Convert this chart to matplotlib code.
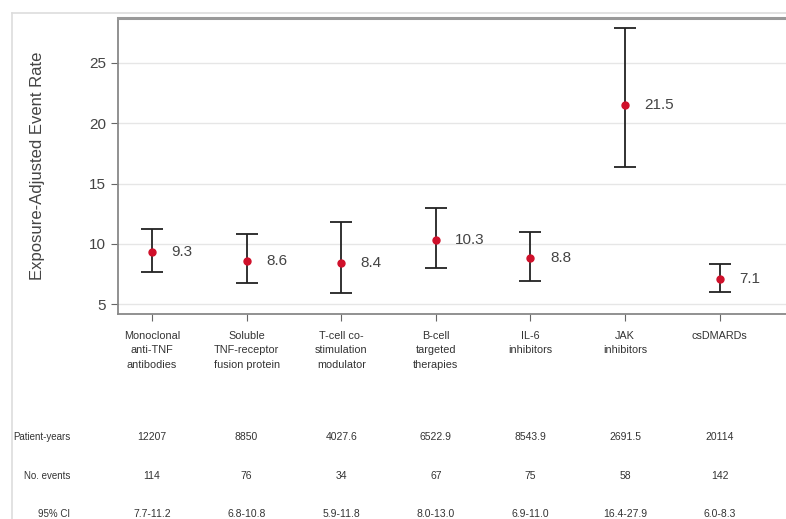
import matplotlib.pyplot as plt
from matplotlib.transforms import blended_transform_factory
import matplotlib.lines as mlines

plt.rcParams['font.family'] = ['Liberation Sans', 'DejaVu Sans']

categories = ['Monoclonal\nanti-TNF\nantibodies', 'Soluble\nTNF-receptor\nfusion protein',
              'T-cell co-\nstimulation\nmodulator', 'B-cell\ntargeted\ntherapies',
              'IL-6\ninhibitors', 'JAK\ninhibitors', 'csDMARDs']
rate = [9.3, 8.6, 8.4, 10.3, 8.8, 21.5, 7.1]
ci_low = [7.7, 6.8, 5.9, 8.0, 6.9, 16.4, 6.0]
ci_high = [11.2, 10.8, 11.8, 13.0, 11.0, 27.9, 8.3]
patient_years = ['12207', '8850', '4027.6', '6522.9', '8543.9', '2691.5', '20114']
n_events = ['114', '76', '34', '67', '75', '58', '142']
ci_text = ['7.7-11.2', '6.8-10.8', '5.9-11.8', '8.0-13.0', '6.9-11.0', '16.4-27.9', '6.0-8.3']

fig = plt.figure(figsize=(7.86, 5.19), dpi=100)
ax = fig.add_axes([0.150, 0.395, 0.850, 0.570])

x = list(range(len(categories)))
err = [[r - lo for r, lo in zip(rate, ci_low)], [hi - r for r, hi in zip(rate, ci_high)]]
ax.errorbar(x, rate, yerr=err, fmt='none', ecolor='#222222', elinewidth=1.3,
            capsize=8, capthick=1.3, zorder=2)
ax.plot(x, rate, 'o', color='#d0102a', markersize=5, zorder=3)
for xi, r in zip(x, rate):
    ax.annotate(f'{r}', (xi, r), xytext=(14, 0), textcoords='offset points',
                va='center', ha='left', fontsize=11, color='#444444')

ax.set_xlim(-0.36, 6.7)
ax.set_ylim(4.2, 28.7)
ax.set_yticks([5, 10, 15, 20, 25])
ax.yaxis.grid(True, color='#e6e6e6', linewidth=1)
ax.set_axisbelow(True)
ax.set_xticks(x)
ax.set_xticklabels(categories, fontsize=7.8, color='#333333', linespacing=1.6)
ax.tick_params(axis='y', labelsize=11, labelcolor='#444444', color='#666666', length=5)
ax.tick_params(axis='x', color='#666666', length=5, pad=7)
ax.set_ylabel('Exposure-Adjusted Event Rate', fontsize=12, color='#444444', labelpad=32)
ax.spines['right'].set_visible(False)
ax.spines['top'].set_color('#999999')
ax.spines['top'].set_linewidth(2.2)
for s in ['left', 'bottom']:
    ax.spines[s].set_color('#888888')
    ax.spines[s].set_linewidth(1.3)

# outer frame lines
fig.add_artist(mlines.Line2D([12 / 786, 12 / 786], [0, 1 - 13 / 519], color='#dddddd', lw=1.2))
fig.add_artist(mlines.Line2D([12 / 786, 1], [1 - 13 / 519, 1 - 13 / 519], color='#dddddd', lw=1.2))

# table under the chart
tr = blended_transform_factory(ax.transData, fig.transFigure)
rows = [('Patient-years', patient_years, 437), ('No. events', n_events, 476), ('95% CI', ci_text, 514)]
for label, vals, ypx in rows:
    yf = 1 - ypx / 519
    fig.text(70 / 786, yf, label, ha='right', va='center', fontsize=7, color='#333333')
    for xi, v in zip(x, vals):
        ax.text(xi, yf, v, transform=tr, ha='center', va='center', fontsize=7.5, color='#333333')

fig.savefig('out.png', dpi=100)
